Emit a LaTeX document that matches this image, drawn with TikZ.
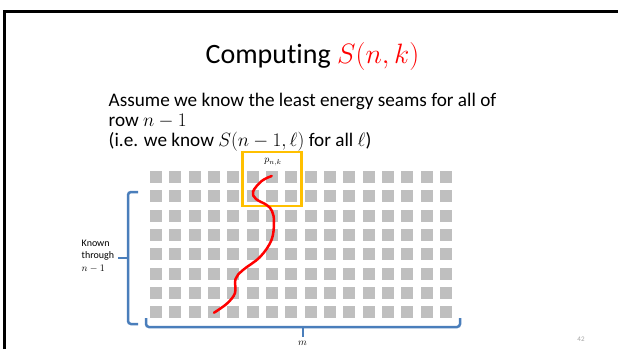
\RequirePackage{fix-cm}
\documentclass[tikz,border=0pt]{standalone}
\usepackage{fontspec}
\setmainfont[Ligatures=NoCommon]{Carlito}
\usepackage{xcolor}
\definecolor{seamred}{HTML}{FF0000}
\definecolor{boxorange}{HTML}{FFC000}
\definecolor{braceblue}{HTML}{4A7EBB}
\definecolor{cellgray}{HTML}{BFBFBF}
\definecolor{pagegray}{HTML}{A6A6A6}

\begin{document}
\begin{tikzpicture}[x=1pt,y=-1pt,
    cell/.style={fill=cellgray},
    brace/.style={draw=braceblue,line width=2.5pt,rounded corners=3pt},
    small/.style={inner sep=0,font=\fontsize{10}{12.5}\selectfont}]
    \useasboundingbox (0,0) rectangle (618,349);
    \fill[white] (0,0) rectangle (618,349);
    % slide frame
    \draw[line width=3pt] (4.5,349) -- (4.5,11.3) -- (618,11.3);
    \node[anchor=base,inner sep=0,font=\fontsize{28}{34}\selectfont] (title) at (312.5,63)
        {Computing \textcolor{seamred}{$S(n,k)$}};
    \node[anchor=north west,inner sep=0,align=left,font=\fontsize{19.2}{20}\selectfont] (assume) at (108.5,93)
        {Assume we know the least energy seams for all of\\row $n-1$\\(i.e. we know $S(n-1,\ell)$ for all $\ell$)};
    % pixel grid
    \foreach \i in {0,...,15}
        \foreach \j in {0,...,7}
            \fill[cell] (150+19.33*\i,171+19.3*\j) rectangle ++(12,12);
    \draw[boxorange,line width=2.5pt] (242.5,152) rectangle (301.5,206);
    \node[small] (pnk) at (273,162) {$p_{n,k}$};
    % the seam
    \draw[seamred,line width=2.5pt,line cap=round] plot[smooth,tension=0.6] coordinates {
        (271.7,176) (261.7,181) (253,191.7) (256,199) (266.7,205) (272,211) (274,222)
        (271.5,240) (260,257) (243,270) (235.5,279) (235,293) (227,303.5) (214,312.7)};
    % braces
    \draw[brace] (138,192) -- (128,192) -- (128,324) -- (138,324);
    \draw[brace] (128,258) -- (118,258);
    \draw[brace] (146,318) -- (146,327) -- (460,327) -- (460,318);
    \draw[brace] (303,327) -- (303,337);
    \node[small,anchor=north west,align=left] (known) at (81.5,239.5) {Known\\through\\$n-1$};
    \node[small] (mlabel) at (302.5,343.5) {$m$};
    \node[inner sep=0,font=\fontsize{7}{8}\selectfont,text=pagegray] (slideno) at (581,339) {42};
\end{tikzpicture}
\end{document}
